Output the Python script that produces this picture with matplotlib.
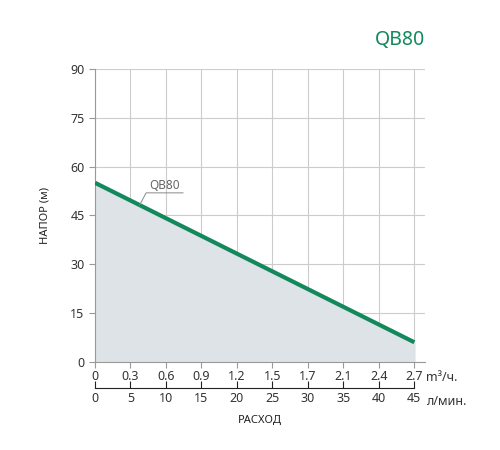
import matplotlib
matplotlib.use("Agg")
import matplotlib.pyplot as plt

flow_lmin = [0, 45]
head = [55, 6]
m3_labels = ["0", "0.3", "0.6", "0.9", "1.2", "1.5", "1.7", "2.1", "2.4", "2.7"]
lmin_ticks = [0, 5, 10, 15, 20, 25, 30, 35, 40, 45]
y_ticks = [0, 15, 30, 45, 60, 75, 90]

plt.rcParams['font.family'] = ['Noto Sans', 'DejaVu Sans']
green = "#12895c"
fig = plt.figure(figsize=(5, 4.5), dpi=100)
ax = fig.add_axes([0.19, 0.196, 0.66, 0.651])
ax.fill_between(flow_lmin, head, 0, color="#dde3e6", zorder=1)
ax.plot(flow_lmin, head, color=green, lw=3, zorder=3, solid_capstyle='butt')
ax.set_xlim(0, 46.5)
ax.set_ylim(0, 90)
ax.set_xticks(lmin_ticks)
ax.set_xticklabels(m3_labels, fontsize=9, color="#333")
ax.set_yticks(y_ticks)
ax.tick_params(axis='y', labelsize=9, colors="#333", color="#999", length=4)
ax.tick_params(axis='x', color="#999", length=4, pad=2)
ax.grid(True, color="#cccccc", lw=0.8, zorder=0)
ax.set_axisbelow(True)
for s in ["top", "right"]:
    ax.spines[s].set_visible(False)
for s in ["left", "bottom"]:
    ax.spines[s].set_color("#999")
ax.text(46.6, -4.8, "m³/ч.", fontsize=9, color="#333", va="center", ha="left")
sec = ax.secondary_xaxis(-0.089)
sec.set_xticks(lmin_ticks)
sec.set_xticklabels([str(v) for v in lmin_ticks], fontsize=9, color="#333")
sec.tick_params(direction='in', length=5, color="#222", pad=3)
sec.spines['bottom'].set_color("#222")
sec.spines['bottom'].set_bounds(0, 45)
ax.text(46.6, -12.2, "л/мин.", fontsize=9, color="#333", va="center", ha="left")
ax.text(0.5, -0.2, "РАСХОД", transform=ax.transAxes, ha="center", va="center",
        fontsize=8, fontweight="bold", color="#222")
ax.set_ylabel("НАПОР (м)", fontsize=8, fontweight="bold", color="#222", labelpad=14)
ax.plot([6.3, 7.2, 12.4], [48.2, 51.9, 51.9], color="#888", lw=0.7, zorder=4)
ax.text(7.6, 52.3, "QB80", fontsize=8.5, color="#666", va="bottom", ha="left")
fig.text(0.85, 0.912, "QB80", fontsize=14, fontweight="bold", color=green, ha="right", va="center")
fig.savefig("out.png", dpi=100)
